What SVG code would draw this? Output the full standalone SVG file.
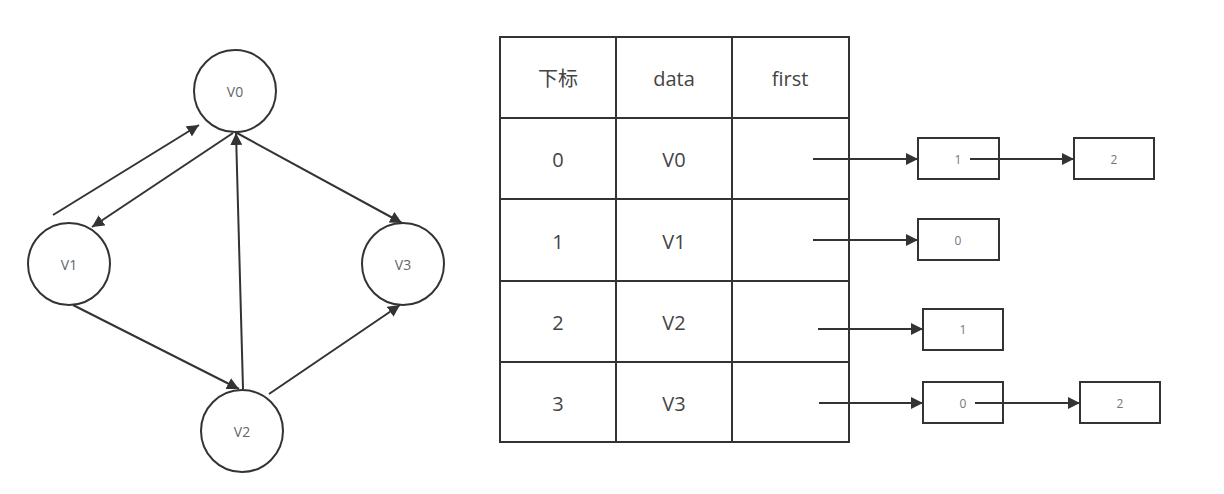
<svg xmlns="http://www.w3.org/2000/svg" width="1224" height="494" viewBox="0 0 1224 494">
<style>
.n{fill:#fff;stroke:#333;stroke-width:2}
.c{stroke:#333;stroke-width:2;fill:none}
.t{font-family:"Open Sans","Noto Sans","Noto Sans CJK SC",sans-serif;fill:#444;text-anchor:middle;dominant-baseline:central}
.tb{font-size:20px}
.sm{font-size:14px;fill:#666}
.xs{font-size:12px;fill:#777}
</style>
<defs>
<marker id="ah" viewBox="0 0 10 10" refX="10" refY="5" markerWidth="6" markerHeight="6" markerUnits="strokeWidth" orient="auto">
<path d="M0,0 L10,5 L0,10 z" fill="#333"/>
</marker>
</defs>
<rect width="1224" height="494" fill="#fff"/>
<g id="nodes">
<g id="v0"><circle class="n" cx="235" cy="91" r="41"/><text class="t sm" x="235" y="91">V0</text></g>
<g id="v1"><circle class="n" cx="69" cy="264" r="41"/><text class="t sm" x="69" y="264">V1</text></g>
<g id="v3"><circle class="n" cx="403" cy="264" r="41"/><text class="t sm" x="403" y="264">V3</text></g>
<g id="v2"><circle class="n" cx="242" cy="431" r="41"/><text class="t sm" x="242" y="431">V2</text></g>
<g id="table">
<rect class="n" x="500" y="37" width="349" height="405"/>
<path class="c" d="M616,37V443M732,37V443M500,118H849M500,199H849M500,281H849M500,362H849"/>
<text class="t tb" x="558" y="78">下标</text>
<text class="t tb" x="674" y="78">data</text>
<text class="t tb" x="790" y="78">first</text>
<text class="t tb" x="558" y="159">0</text>
<text class="t tb" x="674" y="159">V0</text>
<text class="t tb" x="558" y="241">1</text>
<text class="t tb" x="674" y="241">V1</text>
<text class="t tb" x="558" y="322">2</text>
<text class="t tb" x="674" y="322">V2</text>
<text class="t tb" x="558" y="403">3</text>
<text class="t tb" x="674" y="403">V3</text>
</g>
<g id="e01"><rect class="n" x="918" y="138" width="81" height="41"/><text class="t xs" x="958" y="159">1</text></g>
<g id="e02"><rect class="n" x="1074" y="138" width="80" height="41"/><text class="t xs" x="1114" y="159">2</text></g>
<g id="e10"><rect class="n" x="918" y="219" width="81" height="41"/><text class="t xs" x="958" y="240">0</text></g>
<g id="e21"><rect class="n" x="923" y="309" width="80" height="41"/><text class="t xs" x="963" y="329">1</text></g>
<g id="e30"><rect class="n" x="923" y="382" width="80" height="41"/><text class="t xs" x="963" y="403">0</text></g>
<g id="e32"><rect class="n" x="1080" y="382" width="80" height="41"/><text class="t xs" x="1120" y="403">2</text></g>
</g>
<g id="connectors">
<line class="c" x1="53" y1="215" x2="199" y2="125" marker-end="url(#ah)"/>
<line class="c" x1="233" y1="133" x2="92" y2="227" marker-end="url(#ah)"/>
<line class="c" x1="243" y1="389" x2="236" y2="133" marker-end="url(#ah)"/>
<line class="c" x1="237" y1="133" x2="402" y2="223" marker-end="url(#ah)"/>
<line class="c" x1="73" y1="305" x2="239" y2="389" marker-end="url(#ah)"/>
<line class="c" x1="269" y1="394" x2="400" y2="305" marker-end="url(#ah)"/>
<line class="c" x1="813" y1="159" x2="918" y2="159" marker-end="url(#ah)"/>
<line class="c" x1="970" y1="159" x2="1074" y2="159" marker-end="url(#ah)"/>
<line class="c" x1="813" y1="240" x2="918" y2="240" marker-end="url(#ah)"/>
<line class="c" x1="818" y1="329" x2="923" y2="329" marker-end="url(#ah)"/>
<line class="c" x1="819" y1="403" x2="923" y2="403" marker-end="url(#ah)"/>
<line class="c" x1="975" y1="403" x2="1080" y2="403" marker-end="url(#ah)"/>
</g>
</svg>
